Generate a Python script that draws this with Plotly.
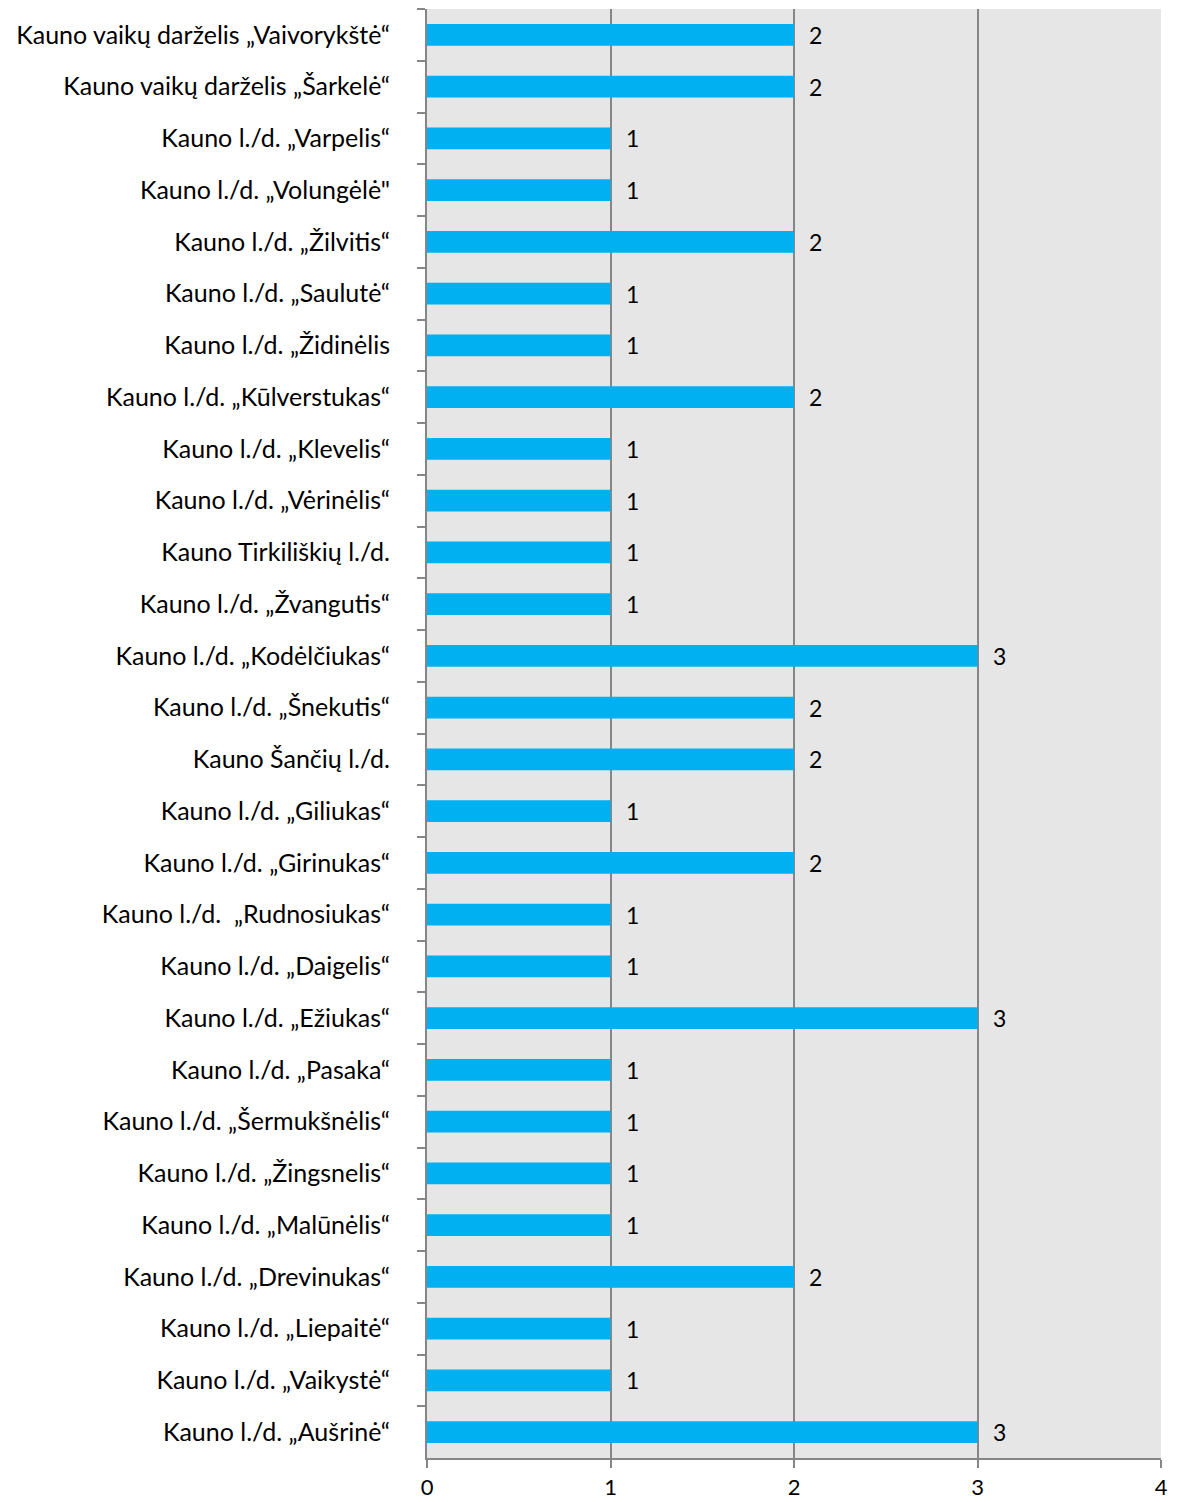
import plotly.graph_objects as go

categories = [
    "Kauno vaikų darželis „Vaivorykštė“",
    "Kauno vaikų darželis „Šarkelė“",
    "Kauno l./d. „Varpelis“",
    "Kauno l./d. „Volungėlė\"",
    "Kauno l./d. „Žilvitis“",
    "Kauno l./d. „Saulutė“",
    "Kauno l./d. „Židinėlis",
    "Kauno l./d. „Kūlverstukas“",
    "Kauno l./d. „Klevelis“",
    "Kauno l./d. „Vėrinėlis“",
    "Kauno Tirkiliškių l./d.",
    "Kauno l./d. „Žvangutis“",
    "Kauno l./d. „Kodėlčiukas“",
    "Kauno l./d. „Šnekutis“",
    "Kauno Šančių l./d.",
    "Kauno l./d. „Giliukas“",
    "Kauno l./d. „Girinukas“",
    "Kauno l./d.  „Rudnosiukas“",
    "Kauno l./d. „Daigelis“",
    "Kauno l./d. „Ežiukas“",
    "Kauno l./d. „Pasaka“",
    "Kauno l./d. „Šermukšnėlis“",
    "Kauno l./d. „Žingsnelis“",
    "Kauno l./d. „Malūnėlis“",
    "Kauno l./d. „Drevinukas“",
    "Kauno l./d. „Liepaitė“",
    "Kauno l./d. „Vaikystė“",
    "Kauno l./d. „Aušrinė“",
]
values = [2, 2, 1, 1, 2, 1, 1, 2, 1, 1, 1, 1, 3, 2, 2, 1, 2, 1, 1, 3, 1, 1, 1, 1, 2, 1, 1, 3]
x_ticks = [0, 1, 2, 3, 4]

FONT = "Lato"
GRAY = "#868686"

fig = go.Figure()
fig.add_trace(go.Bar(
    x=values, y=categories, orientation="h",
    marker=dict(color="#00B0F0", line=dict(width=0)),
    hoverinfo="skip",
))

for c, v in zip(categories, values):
    fig.add_annotation(x=v, y=c, text=str(v), showarrow=False,
                       xanchor="left", xshift=13,
                       font=dict(family=FONT, size=23, color="#000000"))

fig.update_layout(
    width=1171, height=1494,
    margin=dict(l=419, r=18, t=1, b=44, autoexpand=False),
    paper_bgcolor="white",
    plot_bgcolor="#E6E6E6",
    bargap=0.575,
    showlegend=False,
    font=dict(family=FONT, size=25, color="#000000"),
)
fig.update_xaxes(
    range=[0, 4], tickvals=x_ticks, ticktext=[str(t) for t in x_ticks],
    showgrid=True, gridcolor=GRAY, gridwidth=1.5,
    showline=True, linecolor=GRAY, linewidth=2,
    ticks="outside", ticklen=8, tickcolor=GRAY, tickwidth=1.5,
    ticklabelstandoff=1, automargin=False,
    zeroline=False, tickfont=dict(family=FONT, size=22),
    fixedrange=True,
)
fig.update_yaxes(
    autorange="reversed", type="category",
    showline=True, linecolor=GRAY, linewidth=2,
    ticks="outside", ticklen=8, tickcolor=GRAY, tickwidth=1.5,
    tickson="boundaries", showgrid=False,
    ticklabelstandoff=30, automargin=False,
    tickfont=dict(family=FONT, size=25),
    fixedrange=True,
)

fig.write_html("out.html")
